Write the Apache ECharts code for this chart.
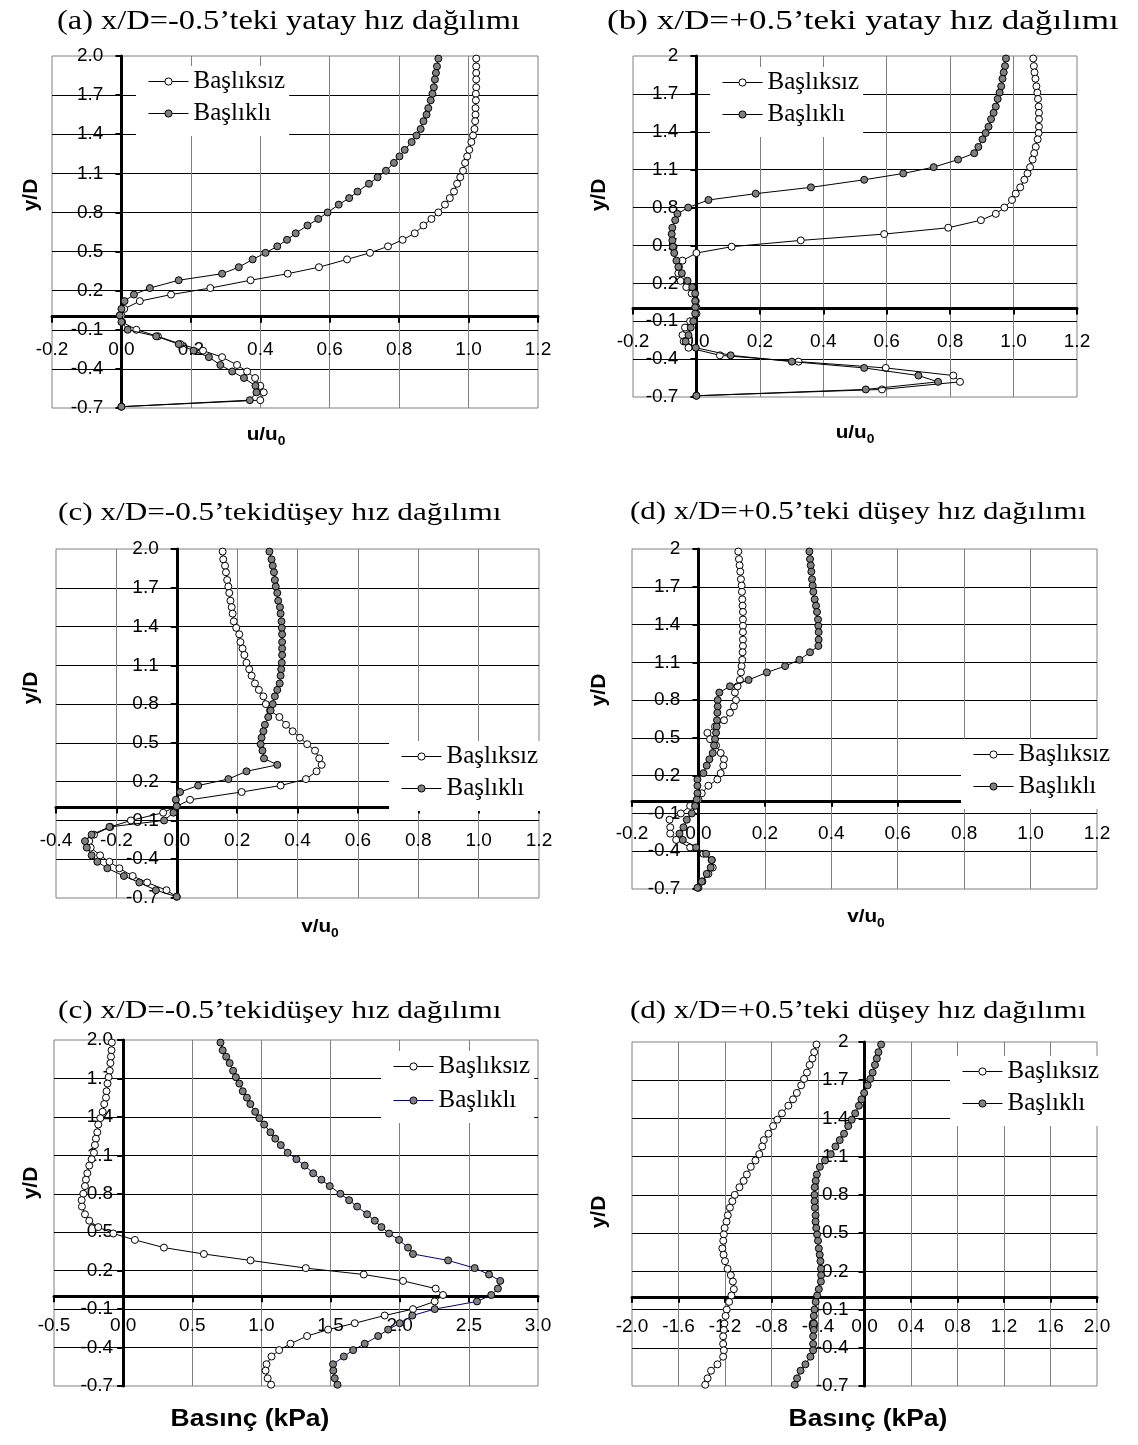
<!DOCTYPE html>
<html><head><meta charset="utf-8">
<script src="https://cdn.jsdelivr.net/npm/echarts@6/dist/echarts.min.js"></script>
<style>html,body{margin:0;padding:0;background:#fff}#c{width:1138px;height:1445px}</style>
</head><body><div id="c"></div>
<script>
const Y = [1.98, 1.92, 1.87, 1.82, 1.76, 1.71, 1.66, 1.60, 1.55, 1.50,
           1.44, 1.39, 1.34, 1.28, 1.23, 1.18, 1.12, 1.07, 1.02, 0.96,
           0.91, 0.86, 0.80, 0.75, 0.70, 0.64, 0.59, 0.54, 0.49, 0.44,
           0.38, 0.33, 0.28, 0.22, 0.17, 0.12, 0.06, 0.01, -0.04, -0.10,
           -0.15, -0.21, -0.26, -0.31, -0.37, -0.42, -0.47, -0.53, -0.58, -0.64, -0.69];

// (a) u/u0 at x/D=-0.5
const aPlain = [1.022, 1.022, 1.022, 1.022, 1.022, 1.021, 1.021, 1.020, 1.020, 1.019,
  1.017, 1.013, 1.008, 1.002, 0.996, 0.990, 0.984, 0.976, 0.967, 0.958,
  0.946, 0.932, 0.913, 0.893, 0.870, 0.845, 0.810, 0.768, 0.716, 0.650,
  0.569, 0.479, 0.372, 0.256, 0.143, 0.053, 0.008, 0.000, 0.002, 0.043,
  0.105, 0.170, 0.235, 0.290, 0.333, 0.362, 0.385, 0.400, 0.410, 0.400, 0.000];
const aCapped = [0.913, 0.909, 0.906, 0.903, 0.900, 0.896, 0.891, 0.884, 0.879, 0.870,
  0.862, 0.850, 0.836, 0.816, 0.801, 0.785, 0.762, 0.738, 0.713, 0.680,
  0.656, 0.626, 0.594, 0.567, 0.536, 0.502, 0.477, 0.449, 0.415, 0.378,
  0.338, 0.290, 0.165, 0.082, 0.036, 0.009, 0.000, -0.005, 0.000, 0.018,
  0.100, 0.165, 0.208, 0.252, 0.285, 0.319, 0.353, 0.386, 0.389, 0.370, 0.000];
// (b) u/u0 at x/D=+0.5
const bPlain = [1.062, 1.064, 1.066, 1.069, 1.072, 1.075, 1.077, 1.079, 1.080, 1.080,
  1.080, 1.079, 1.076, 1.070, 1.065, 1.060, 1.052, 1.044, 1.034, 1.021,
  1.007, 0.995, 0.971, 0.944, 0.897, 0.794, 0.592, 0.329, 0.111, 0.000,
  -0.044, -0.055, -0.057, -0.050, -0.032, -0.015, -0.002, 0.000, 0.000, -0.020,
  -0.036, -0.044, -0.040, -0.025, 0.074, 0.322, 0.597, 0.810, 0.831, 0.585, 0.000];
const bCapped = [0.976, 0.973, 0.969, 0.965, 0.961, 0.956, 0.950, 0.944, 0.937, 0.929,
  0.921, 0.912, 0.902, 0.889, 0.876, 0.825, 0.748, 0.652, 0.529, 0.361,
  0.187, 0.038, -0.026, -0.060, -0.067, -0.076, -0.078, -0.076, -0.074, -0.070,
  -0.063, -0.057, -0.046, -0.028, -0.013, -0.004, -0.004, -0.004, -0.004, -0.010,
  -0.018, -0.025, -0.034, -0.002, 0.108, 0.301, 0.529, 0.700, 0.762, 0.534, 0.000];
// (c) v/u0 at x/D=-0.5
const cPlain = [0.152, 0.154, 0.160, 0.163, 0.167, 0.171, 0.174, 0.178, 0.182, 0.185,
  0.189, 0.197, 0.207, 0.211, 0.218, 0.224, 0.231, 0.240, 0.248, 0.259,
  0.272, 0.287, 0.295, 0.309, 0.340, 0.362, 0.384, 0.408, 0.432, 0.458,
  0.472, 0.480, 0.463, 0.428, 0.344, 0.215, 0.044, 0.000, -0.045, -0.152,
  -0.220, -0.274, -0.290, -0.285, -0.254, -0.223, -0.190, -0.146, -0.098, -0.034, 0.000];
const cCapped = [0.307, 0.314, 0.318, 0.322, 0.325, 0.328, 0.333, 0.336, 0.342, 0.344,
  0.347, 0.348, 0.349, 0.349, 0.349, 0.349, 0.348, 0.346, 0.344, 0.341,
  0.333, 0.325, 0.318, 0.311, 0.303, 0.292, 0.287, 0.281, 0.278, 0.284,
  0.289, 0.333, 0.231, 0.171, 0.071, 0.011, -0.003, 0.000, -0.011, -0.042,
  -0.223, -0.282, -0.304, -0.298, -0.282, -0.263, -0.230, -0.175, -0.124, -0.069, 0.000];
// (d) v/u0 at x/D=+0.5
const dPlain = [0.120, 0.122, 0.124, 0.126, 0.128, 0.130, 0.131, 0.132, 0.133, 0.134,
  0.134, 0.134, 0.134, 0.134, 0.134, 0.133, 0.132, 0.130, 0.128, 0.125,
  0.118, 0.110, 0.113, 0.107, 0.095, 0.077, 0.050, 0.027, 0.035, 0.053,
  0.067, 0.077, 0.075, 0.067, 0.057, 0.030, 0.010, 0.000, -0.025, -0.053,
  -0.087, -0.085, -0.085, -0.067, -0.025, 0.015, 0.040, 0.043, 0.030, 0.012, 0.000];
const dCapped = [0.334, 0.336, 0.338, 0.340, 0.342, 0.344, 0.346, 0.350, 0.354, 0.357,
  0.360, 0.361, 0.362, 0.362, 0.361, 0.336, 0.304, 0.261, 0.206, 0.151,
  0.095, 0.063, 0.058, 0.058, 0.057, 0.056, 0.055, 0.053, 0.050, 0.047,
  0.043, 0.033, 0.025, 0.015, -0.003, -0.003, -0.003, -0.005, -0.010, -0.020,
  -0.035, -0.045, -0.057, -0.047, -0.007, 0.023, 0.040, 0.037, 0.025, 0.010, -0.003];
// (e) pressure (kPa), left
const ePlain = [-0.082, -0.084, -0.088, -0.092, -0.097, -0.105, -0.113, -0.120, -0.124, -0.137,
  -0.148, -0.165, -0.180, -0.187, -0.197, -0.204, -0.211, -0.228, -0.245, -0.259,
  -0.269, -0.276, -0.288, -0.300, -0.298, -0.276, -0.245, -0.180, -0.071, 0.085,
  0.295, 0.584, 0.921, 1.321, 1.740, 2.024, 2.260, 2.313, 2.253, 2.096,
  1.891, 1.675, 1.482, 1.330, 1.210, 1.128, 1.073, 1.037, 1.030, 1.045, 1.070];
const eCapped = [0.704, 0.720, 0.745, 0.770, 0.795, 0.815, 0.840, 0.865, 0.895, 0.920,
  0.955, 0.985, 1.020, 1.065, 1.100, 1.140, 1.190, 1.253, 1.313, 1.374,
  1.434, 1.494, 1.571, 1.634, 1.692, 1.764, 1.820, 1.868, 1.923, 1.995,
  2.060, 2.096, 2.350, 2.542, 2.646, 2.727, 2.710, 2.662, 2.559, 2.253,
  2.091, 2.000, 1.916, 1.844, 1.747, 1.663, 1.596, 1.518, 1.520, 1.530, 1.550];
// (f) pressure (kPa), right
const fPlain = [-0.413, -0.433, -0.448, -0.472, -0.495, -0.520, -0.545, -0.582, -0.615, -0.655,
  -0.710, -0.750, -0.786, -0.826, -0.866, -0.880, -0.905, -0.938, -0.978, -1.012,
  -1.040, -1.076, -1.116, -1.137, -1.158, -1.176, -1.187, -1.203, -1.210, -1.215,
  -1.223, -1.212, -1.200, -1.178, -1.150, -1.132, -1.124, -1.145, -1.165, -1.185,
  -1.195, -1.205, -1.210, -1.216, -1.216, -1.210, -1.216, -1.265, -1.320, -1.350, -1.370];
const fCapped = [0.143, 0.120, 0.106, 0.090, 0.070, 0.050, 0.027, -0.003, -0.026, -0.048,
  -0.080, -0.110, -0.140, -0.176, -0.213, -0.250, -0.290, -0.340, -0.384, -0.410,
  -0.420, -0.428, -0.430, -0.430, -0.427, -0.421, -0.421, -0.415, -0.408, -0.400,
  -0.393, -0.385, -0.379, -0.374, -0.373, -0.375, -0.393, -0.407, -0.420, -0.430,
  -0.436, -0.436, -0.436, -0.442, -0.442, -0.442, -0.465, -0.508, -0.550, -0.580, -0.600];

const seriesNames = ['Başlıksız', 'Başlıklı'];
const titles = ['(a) x/D=-0.5’teki yatay hız dağılımı', '(b) x/D=+0.5’teki yatay hız dağılımı',
  '(c) x/D=-0.5’tekidüşey hız dağılımı', '(d) x/D=+0.5’teki düşey hız dağılımı',
  '(c) x/D=-0.5’tekidüşey hız dağılımı', '(d) x/D=+0.5’teki düşey hız dağılımı'];
const xNames = ['u/u|0', 'u/u|0', 'v/u|0', 'v/u|0', 'Basınç (kPa)|', 'Basınç (kPa)|'];
const yName = 'y/D';
const yRange = {min: -0.7, max: 2.0, interval: 0.3};
const xRanges = [
  {min: -0.2, max: 1.2, interval: 0.2}, {min: -0.2, max: 1.2, interval: 0.2},
  {min: -0.4, max: 1.2, interval: 0.2}, {min: -0.2, max: 1.2, interval: 0.2},
  {min: -0.5, max: 3.0, interval: 0.5}, {min: -2.0, max: 2.0, interval: 0.4}];
const yTopAsInteger = [false, true, false, true, false, true];

const panels = [
  {plain: aPlain, capped: aCapped, grid: {left: 52, top: 56, width: 486, height: 352}, xm: 24, ym: 18,
   title: [57, 22, 27, 1.2], yN: [31, 195], xN: [266, 435], leg: [136, 66], gap: 7, cappedLine: '#000'},
  {plain: bPlain, capped: bCapped, grid: {left: 633, top: 56, width: 444, height: 341}, xm: 24, ym: 18,
   title: [607, 22, 27, 1.3], yN: [599, 195], xN: [855, 433], leg: [710, 67], gap: 7, cappedLine: '#000'},
  {plain: cPlain, capped: cCapped, grid: {left: 56, top: 549, width: 483, height: 349}, xm: 24, ym: 18,
   title: [58, 513, 26, 1.2], yN: [31, 688], xN: [320, 927], leg: [389, 741], gap: 7, cappedLine: '#000'},
  {plain: dPlain, capped: dCapped, grid: {left: 632, top: 549, width: 465, height: 340}, xm: 23, ym: 18,
   title: [630, 512, 26, 1.19], yN: [599, 690], xN: [866, 917], leg: [961, 739], gap: 7, cappedLine: '#000'},
  {plain: ePlain, capped: eCapped, grid: {left: 54, top: 1040, width: 484, height: 346}, xm: 20, ym: 10,
   title: [58, 1011, 26, 1.2], yN: [31, 1183], xN: [250, 1420], leg: [381, 1051], gap: 9, cappedLine: '#000080'},
  {plain: fPlain, capped: fCapped, grid: {left: 632, top: 1042, width: 465, height: 344}, xm: 20, ym: 16,
   title: [630, 1011, 26, 1.19], yN: [599, 1212], xN: [868, 1420], leg: [950, 1056], gap: 7, cappedLine: '#000'}
];

const SANS = 'Liberation Sans', SERIF = 'Liberation Serif';
const grids = [], xAxes = [], yAxes = [], series = [], legends = [], elements = [];

panels.forEach((p, i) => {
  const xr = xRanges[i];
  // axes cross at zero: shift each axis from the grid edge to the other axis' zero
  const xAxisShift = -p.grid.height * (0 - yRange.min) / (yRange.max - yRange.min);
  const yAxisShift = -p.grid.width * (0 - xr.min) / (xr.max - xr.min);
  grids.push(Object.assign({show: true, borderColor: '#808080', borderWidth: 1, backgroundColor: '#fff',
    containLabel: false, outerBoundsMode: 'none'}, p.grid));
  xAxes.push({
    gridIndex: i, type: 'value', position: 'bottom', offset: xAxisShift,
    min: xr.min, max: xr.max, interval: xr.interval,
    axisLine: {show: true, onZero: false, lineStyle: {color: '#000', width: 3}},
    axisTick: {show: true, length: 6, lineStyle: {color: '#000', width: 2}},
    axisLabel: {show: true, margin: p.xm, color: '#000', fontFamily: SANS, fontSize: 19,
      showMinLabel: true, showMaxLabel: true, formatter: v => v.toFixed(1)},
    splitLine: {show: true, showMinLine: false, showMaxLine: false, lineStyle: {color: '#808080', width: 1}}
  });
  yAxes.push({
    gridIndex: i, type: 'value', position: 'left', offset: yAxisShift,
    min: yRange.min, max: yRange.max, interval: yRange.interval,
    axisLine: {show: true, onZero: false, lineStyle: {color: '#000', width: 3}},
    axisTick: {show: true, length: 6, lineStyle: {color: '#000', width: 2}},
    axisLabel: {show: true, margin: p.ym, color: '#000', fontFamily: SANS, fontSize: 19,
      showMinLabel: true, showMaxLabel: true,
      formatter: v => (yTopAsInteger[i] && Math.abs(v - 2) < 1e-6) ? '2' : v.toFixed(1)},
    splitLine: {show: true, showMinLine: false, showMaxLine: false, lineStyle: {color: '#000', width: 1}}
  });
  [p.plain, p.capped].forEach((xs, k) => {
    series.push({
      type: 'line', name: seriesNames[k], xAxisIndex: i, yAxisIndex: i,
      data: xs.map((x, j) => [x, Y[j]]),
      symbol: 'circle', symbolSize: 7, showSymbol: true, showAllSymbol: true,
      itemStyle: {color: k === 0 ? '#fff' : '#808080', borderColor: '#000', borderWidth: 1},
      lineStyle: {color: k === 0 ? '#000' : p.cappedLine, width: 1},
      emphasis: {disabled: true}, animation: false, z: 2 + k
    });
  });
  legends.push({
    show: true, orient: 'vertical', align: 'left', left: p.leg[0], top: p.leg[1],
    backgroundColor: '#fff', padding: [3, 4, 10, 12], itemWidth: 40, itemHeight: 9, itemGap: p.gap,
    selectedMode: false,
    textStyle: {fontFamily: SERIF, fontSize: 25, color: '#000', lineHeight: 20},
    data: [
      {name: seriesNames[0], itemStyle: {color: '#fff', borderColor: '#000', borderWidth: 1},
       lineStyle: {color: '#000', width: 1}},
      {name: seriesNames[1], itemStyle: {color: '#808080', borderColor: '#000', borderWidth: 1},
       lineStyle: {color: p.cappedLine, width: 1}}
    ]
  });
  // panel title
  elements.push({type: 'text', x: p.title[0], y: p.title[1], scaleX: p.title[3], z: 10,
    style: {text: titles[i], fontFamily: SERIF, fontSize: p.title[2], fill: '#000',
      align: 'left', verticalAlign: 'middle', textAlign: 'left', textVerticalAlign: 'middle'}});
  // y axis name
  elements.push({type: 'text', x: p.yN[0], y: p.yN[1], rotation: Math.PI / 2, z: 10,
    style: {text: yName, fontFamily: SANS, fontWeight: 'bold', fontSize: 21, fill: '#000',
      align: 'center', verticalAlign: 'middle', textAlign: 'center', textVerticalAlign: 'middle'}});
  // x axis name with subscript
  const parts = xNames[i].split('|');
  const big = i >= 4 ? 23 : 18;
  elements.push({type: 'text', x: p.xN[0], y: p.xN[1], scaleX: 1.15, z: 10,
    style: {text: '{m|' + parts[0] + '}' + (parts[1] ? '{s|' + parts[1] + '}' : ''),
      align: 'center', verticalAlign: 'middle', textAlign: 'center', textVerticalAlign: 'middle',
      rich: {
        m: {fontFamily: SANS, fontWeight: 'bold', fontSize: big, lineHeight: 26, fill: '#000', color: '#000'},
        s: {fontFamily: SANS, fontWeight: 'bold', fontSize: 12, lineHeight: 16, verticalAlign: 'bottom', fill: '#000', color: '#000'}
      }}});
});

const chart = echarts.init(document.getElementById('c'), null, {renderer: 'canvas'});
chart.setOption({
  animation: false, backgroundColor: '#fff',
  grid: grids, xAxis: xAxes, yAxis: yAxes, series: series, legend: legends,
  graphic: {elements: elements}
});
</script></body></html>
